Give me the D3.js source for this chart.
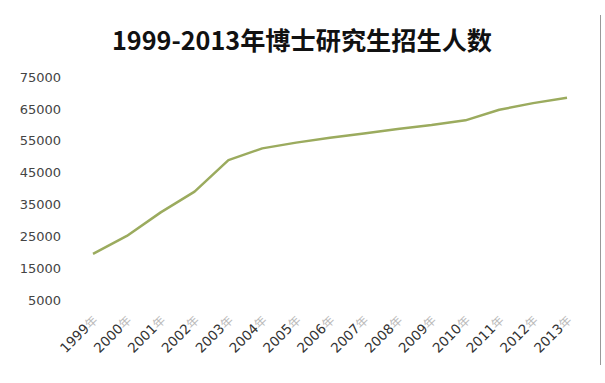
<!DOCTYPE html>
<html><head><meta charset="utf-8">
<script src="https://cdn.jsdelivr.net/npm/d3@7"></script>
<style>body{margin:0;background:#fff}svg{display:block}</style>
</head><body>
<svg id="c" width="605" height="383"></svg>
<script>
const title = "1999-2013年博士研究生招生人数";
const years = ["1999","2000","2001","2002","2003","2004","2005","2006","2007","2008","2009","2010","2011","2012","2013"];
const values = [19500,25100,32500,39000,48900,52600,54400,55900,57300,58700,59900,61400,64700,66800,68500];
const yTicks = [5000,15000,25000,35000,45000,55000,65000,75000];

const svg = d3.select("#c");
const x = d3.scalePoint().domain(years).range([93,567]);
const y = d3.scaleLinear().domain([5000,75000]).range([300,77]);

svg.append("text").attr("x",302).attr("y",50).attr("text-anchor","middle")
  .attr("font-family","'Noto Sans CJK SC'").attr("font-weight","bold")
  .attr("font-size",25.2).attr("fill","#111").text(title);

// right border line
svg.append("line").attr("x1",600.5).attr("x2",600.5).attr("y1",15).attr("y2",365)
  .attr("stroke","#999").attr("stroke-width",1);

const yAxis = svg.append("g").attr("transform","translate(61,0)")
  .call(d3.axisLeft(y).tickValues(yTicks).tickSize(0).tickPadding(0).tickFormat(d3.format("d")));
yAxis.select(".domain").remove();
yAxis.selectAll("text").attr("font-family","DejaVu Sans").attr("font-size",13).attr("fill","#444");

const xAxis = svg.append("g").attr("transform","translate(0,312)")
  .call(d3.axisBottom(x).tickSize(0).tickPadding(0).tickFormat(""));
xAxis.select(".domain").remove();
xAxis.selectAll(".tick").each(function(d){
  const t = d3.select(this).append("text")
    .attr("transform","translate(5,9) rotate(-45)")
    .attr("text-anchor","end").attr("font-family","DejaVu Sans").attr("font-size",13.5)
    .attr("fill","#333");
  t.append("tspan").text(d);
  t.append("tspan").attr("fill","#bbb").attr("font-family","'Noto Sans CJK SC'").attr("font-size",12).text("年");
});

const line = d3.line().x((d,i)=>x(years[i])).y(d=>y(d));
svg.append("path").datum(values).attr("d",line).attr("fill","none")
  .attr("stroke","#9bab5e").attr("stroke-width",2.5).attr("stroke-linejoin","round");
</script>
</body></html>
